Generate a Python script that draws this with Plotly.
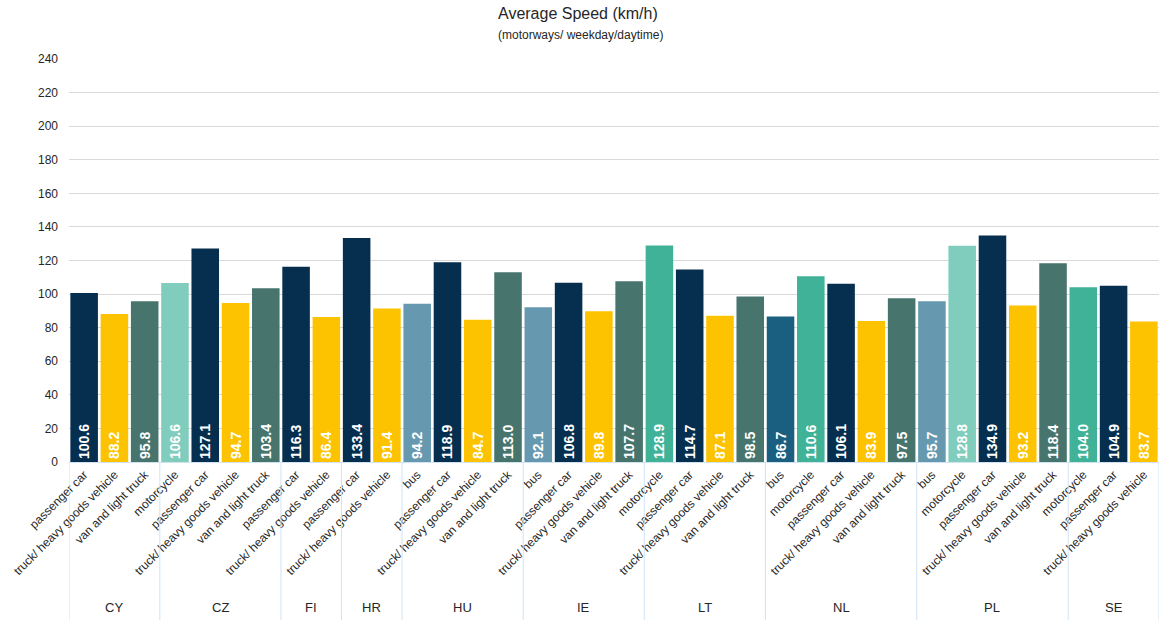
import plotly.graph_objects as go

# Average motorway speeds (weekday, daytime) by country and vehicle type
countries = ["CY"] * 3 + ["CZ"] * 4 + ["FI"] * 2 + ["HR"] * 2 + ["HU"] * 4 + ["IE"] * 4 \
    + ["LT"] * 4 + ["NL"] * 5 + ["PL"] * 5 + ["SE"] * 3
vehicles = [
    "passenger car", "truck/ heavy goods vehicle", "van and light truck",
    "motorcycle", "passenger car", "truck/ heavy goods vehicle", "van and light truck",
    "passenger car", "truck/ heavy goods vehicle",
    "passenger car", "truck/ heavy goods vehicle",
    "bus", "passenger car", "truck/ heavy goods vehicle", "van and light truck",
    "bus", "passenger car", "truck/ heavy goods vehicle", "van and light truck",
    "motorcycle", "passenger car", "truck/ heavy goods vehicle", "van and light truck",
    "bus", "motorcycle", "passenger car", "truck/ heavy goods vehicle", "van and light truck",
    "bus", "motorcycle", "passenger car", "truck/ heavy goods vehicle", "van and light truck",
    "motorcycle", "passenger car", "truck/ heavy goods vehicle",
]
speeds = [
    100.6, 88.2, 95.8,
    106.6, 127.1, 94.7, 103.4,
    116.3, 86.4,
    133.4, 91.4,
    94.2, 118.9, 84.7, 113.0,
    92.1, 106.8, 89.8, 107.7,
    128.9, 114.7, 87.1, 98.5,
    86.7, 110.6, 106.1, 83.9, 97.5,
    95.7, 128.8, 134.9, 93.2, 118.4,
    104.0, 104.9, 83.7,
]
y_ticks = list(range(0, 241, 20))

# Bar fills by vehicle type, with a few country-specific shades
palette = {
    "passenger car": "#062f4f",
    "truck/ heavy goods vehicle": "#fdc300",
    "van and light truck": "#47756e",
    "motorcycle": "#80cdbd",
    "bus": "#6699b0",
}
shade_overrides = {
    ("LT", "motorcycle"): "#3fb297",
    ("NL", "motorcycle"): "#3fb297",
    ("SE", "motorcycle"): "#3fb297",
    ("NL", "bus"): "#1a5f80",
}
bar_colors = [shade_overrides.get((c, v), palette[v]) for c, v in zip(countries, vehicles)]

text_font = "Liberation Sans, Arial, sans-serif"
text_color = "#262626"
divider_color = "#cfe3f5"

positions = list(range(len(speeds)))

fig = go.Figure(
    go.Bar(
        x=positions,
        y=speeds,
        marker=dict(color=bar_colors, line=dict(width=0)),
        text=[f"{v:.1f}" for v in speeds],
        textposition="inside",
        textangle=-90,
        insidetextanchor="start",
        textfont=dict(family=text_font, size=14, color="white", weight="bold"),
        hovertext=[f"{c} – {v}" for c, v in zip(countries, vehicles)],
    )
)

# Country groups: label centred under each group, dividers at group edges
groups = []
for i, c in enumerate(countries):
    if not groups or groups[-1][0] != c:
        groups.append([c, i, i])
    else:
        groups[-1][2] = i

divider_bottom = -0.395
for name, start, end in groups:
    fig.add_annotation(
        x=(start + end) / 2, y=-0.36, xref="x", yref="paper",
        text=name, showarrow=False, yanchor="middle",
        font=dict(family=text_font, size=13, color=text_color),
    )
    fig.add_shape(
        type="line", xref="x", yref="paper",
        x0=start - 0.5, x1=start - 0.5, y0=0, y1=divider_bottom,
        line=dict(color=divider_color, width=1),
    )
fig.add_shape(
    type="line", xref="x", yref="paper",
    x0=len(speeds) - 0.5, x1=len(speeds) - 0.5, y0=0, y1=divider_bottom,
    line=dict(color=divider_color, width=1),
)

# Title and subtitle
fig.add_annotation(
    x=0.467, y=1.112, xref="paper", yref="paper", showarrow=False,
    text="Average Speed (km/h)", yanchor="middle",
    font=dict(family=text_font, size=16, color=text_color),
)
fig.add_annotation(
    x=0.469, y=1.06, xref="paper", yref="paper", showarrow=False,
    text="(motorways/ weekday/daytime)", yanchor="middle",
    font=dict(family=text_font, size=12, color=text_color),
)

fig.update_layout(
    width=1171,
    height=620,
    margin=dict(l=69, r=12, t=59, b=158, autoexpand=False),
    paper_bgcolor="white",
    plot_bgcolor="white",
    bargap=0.09,
    showlegend=False,
    font=dict(family=text_font, color=text_color, size=12),
)

fig.update_yaxes(
    range=[0, 240],
    tickvals=y_ticks,
    showgrid=True,
    gridcolor="#d9d9d9",
    gridwidth=1,
    zeroline=False,
    showline=False,
    ticks="",
    ticklabelstandoff=10,
    tickfont=dict(family=text_font, size=12, color=text_color),
)

fig.update_xaxes(
    range=[-0.5, len(speeds) - 0.5],
    tickvals=positions,
    ticktext=vehicles,
    tickangle=-45,
    showgrid=False,
    zeroline=False,
    showline=True,
    linecolor=divider_color,
    linewidth=1,
    ticks="",
    tickfont=dict(family=text_font, size=12, color=text_color),
)

fig.write_html("out.html")
